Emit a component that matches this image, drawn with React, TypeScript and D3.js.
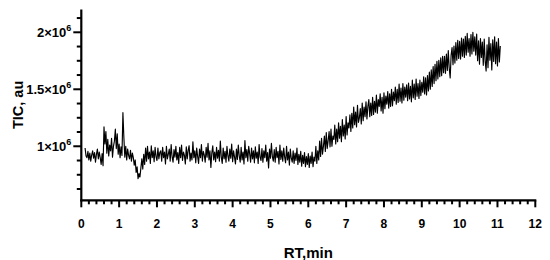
import React from "react";
import * as d3 from "d3";

// RT sampling: t = 0.1 + 0.025 * i (minutes); TIC values in thousands of au
const tStart = 0.1;
const tStep = 0.025;
const ticK: number[] = [
  985, 915, 900, 955, 880, 940, 870, 925, 960, 895, 945, 860, 930, 975, 890, 950, 900, 840, 935, 830,
  1170, 1020, 1130, 940, 1060, 915, 1010, 960, 1070, 905, 1000, 1045, 1150, 980, 1110, 930, 1020, 900, 995, 920,
  1295, 1080, 905, 1000, 880, 975, 920, 890, 965, 870, 940, 900, 835, 880, 770, 820, 715, 760, 730, 810,
  890, 800, 930, 840, 985, 870, 1000, 890, 950, 850, 1005, 900, 960, 865, 990, 910, 875, 985, 890, 945,
  960, 870, 990, 900, 950, 845, 1000, 890, 930, 975, 870, 1015, 910, 860, 970, 905, 1000, 880, 945, 850,
  990, 900, 1010, 875, 950, 920, 845, 995, 890, 965, 1005, 870, 940, 880, 1040, 900, 960, 855, 985, 910,
  850, 975, 900, 1015, 870, 955, 925, 860, 990, 905, 1025, 880, 960, 815, 940, 1005, 880, 950, 865, 990,
  895, 965, 870, 1045, 905, 850, 985, 890, 955, 860, 1000, 915, 870, 975, 895, 1020, 865, 960, 905, 845,
  975, 885, 1010, 915, 860, 990, 880, 950, 845, 1050, 900, 970, 870, 1000, 935, 860, 985, 890, 960, 855,
  995, 895, 950, 850, 1015, 905, 875, 980, 860, 960, 900, 1010, 870, 945, 810, 975, 895, 1025, 910, 870,
  970, 860, 990, 900, 955, 845, 1010, 885, 960, 870, 985, 905, 855, 1000, 880, 950, 835, 975, 895, 860,
  960, 850, 940, 875, 985, 840, 930, 860, 955, 825, 920, 850, 945, 820, 910, 840, 935, 815, 915, 850,
  950, 820, 905, 870, 1000, 850, 960, 880, 1045, 910, 1070, 930, 1000, 1090, 955, 1120, 980, 1050, 1130, 995,
  1150, 1000, 1090, 1060, 1185, 1020, 1150, 1040, 1205, 1070, 1175, 1040, 1235, 1090, 1185, 1065, 1260, 1100, 1205, 1160,
  1275, 1130, 1290, 1160, 1345, 1190, 1300, 1170, 1360, 1210, 1250, 1330, 1195, 1380, 1225, 1345, 1260, 1390, 1240, 1350,
  1410, 1260, 1380, 1270, 1430, 1280, 1395, 1300, 1450, 1290, 1410, 1350, 1460, 1310, 1430, 1290, 1470, 1330, 1440, 1370,
  1480, 1335, 1460, 1350, 1500, 1355, 1475, 1400, 1520, 1370, 1500, 1385, 1545, 1395, 1510, 1380, 1550, 1405, 1520, 1430,
  1540, 1400, 1555, 1415, 1525, 1390, 1580, 1425, 1545, 1410, 1590, 1440, 1550, 1420, 1580, 1445, 1560, 1475, 1610, 1460,
  1600, 1450, 1620, 1485, 1650, 1500, 1670, 1525, 1700, 1550, 1720, 1575, 1745, 1590, 1755, 1610, 1775, 1620, 1790, 1645,
  1790, 1640, 1810, 1665, 1840, 1685, 1600, 1800, 1865, 1715, 1880, 1730, 1910, 1755, 1930, 1770, 1920, 1765, 1950, 1790,
  1940, 1780, 1965, 1800, 1990, 1825, 1945, 1790, 1980, 1810, 2000, 1835, 1960, 1800, 1985, 1750, 1925, 1720, 1945, 1780,
  1915, 1710, 1940, 1745, 1660, 1890, 1690, 1955, 1755, 1900, 1670, 1935, 1745, 1960, 1725, 1915, 1705, 1945, 1740, 1880,
];

const xMajorTicks = [0, 1, 2, 3, 4, 5, 6, 7, 8, 9, 10, 11, 12];
const xTickLabels = ["0", "1", "2", "3", "4", "5", "6", "7", "8", "9", "10", "11", "12"];
const yMajorTicks = [1e6, 1.5e6, 2e6];
const yTickLabels = ["1×10", "1.5×10", "2×10"];
const yTickExp = "6";
const xTitle = "RT,min";
const yTitle = "TIC, au";

const FONT = "'Liberation Sans', Arial, Helvetica, sans-serif";

export default function App() {
  const left = 81.3;
  const right = 535.3;
  const top = 9.5;
  const bottom = 200.3;

  const x = d3.scaleLinear().domain([0, 12]).range([left, right]);
  const y = d3.scaleLinear().domain([0.526e6, 2.2e6]).range([bottom, top]);

  const data = ticK.map((v, i) => ({ t: tStart + tStep * i, v: v * 1000 }));
  const line = d3
    .line<{ t: number; v: number }>()
    .x((d) => x(d.t))
    .y((d) => y(d.v));

  const xMinor = d3.range(0, 12.0001, 0.2).filter((t) => Math.abs(t - Math.round(t)) > 1e-6);
  const yMinor = d3.range(0.625e6, 2.2e6, 0.125e6).filter((v) => !yMajorTicks.some((m) => Math.abs(m - v) < 1));

  return (
    <svg
      width={550}
      height={260}
      style={{ position: "absolute", left: 0, top: 0, background: "#fff" }}
      fontFamily={FONT}
    >
      <path d={line(data) || ""} fill="none" stroke="#000" strokeWidth={1.15} strokeLinejoin="round" />

      {/* y axis */}
      <line x1={left} x2={left} y1={top} y2={bottom + 1} stroke="#000" strokeWidth={2.2} />
      {yMajorTicks.map((v) => (
        <line key={"ym" + v} x1={left - 8} x2={left} y1={y(v)} y2={y(v)} stroke="#000" strokeWidth={2} />
      ))}
      {yMinor.map((v) => (
        <line key={"yn" + v} x1={left - 4.5} x2={left} y1={y(v)} y2={y(v)} stroke="#000" strokeWidth={2} />
      ))}
      {yMajorTicks.map((v, i) => (
        <text
          key={"yl" + v}
          x={left - 10}
          y={y(v) + 4.7}
          textAnchor="end"
          fontSize={13}
          fontWeight="bold"
        >
          <tspan>{yTickLabels[i]}</tspan>
          <tspan dy={-5.5} fontSize={9}>
            {yTickExp}
          </tspan>
        </text>
      ))}

      {/* x axis */}
      <line x1={left - 1} x2={right + 1} y1={bottom} y2={bottom} stroke="#000" strokeWidth={2.2} />
      {xMajorTicks.map((t) => (
        <line key={"xm" + t} x1={x(t)} x2={x(t)} y1={bottom} y2={bottom + 7} stroke="#000" strokeWidth={2} />
      ))}
      {xMinor.map((t) => (
        <line key={"xn" + t} x1={x(t)} x2={x(t)} y1={bottom} y2={bottom + 4} stroke="#000" strokeWidth={2} />
      ))}
      {xMajorTicks.map((t, i) => (
        <text key={"xl" + t} x={x(t)} y={bottom + 27.5} textAnchor="middle" fontSize={12} fontWeight="bold">
          {xTickLabels[i]}
        </text>
      ))}

      <text x={(left + right) / 2} y={258} textAnchor="middle" fontSize={15} fontWeight="bold">
        {xTitle}
      </text>
      <text
        transform={`translate(${23},${(top + bottom) / 2}) rotate(-90)`}
        textAnchor="middle"
        fontSize={14.5}
        fontWeight="bold"
      >
        {yTitle}
      </text>
    </svg>
  );
}
